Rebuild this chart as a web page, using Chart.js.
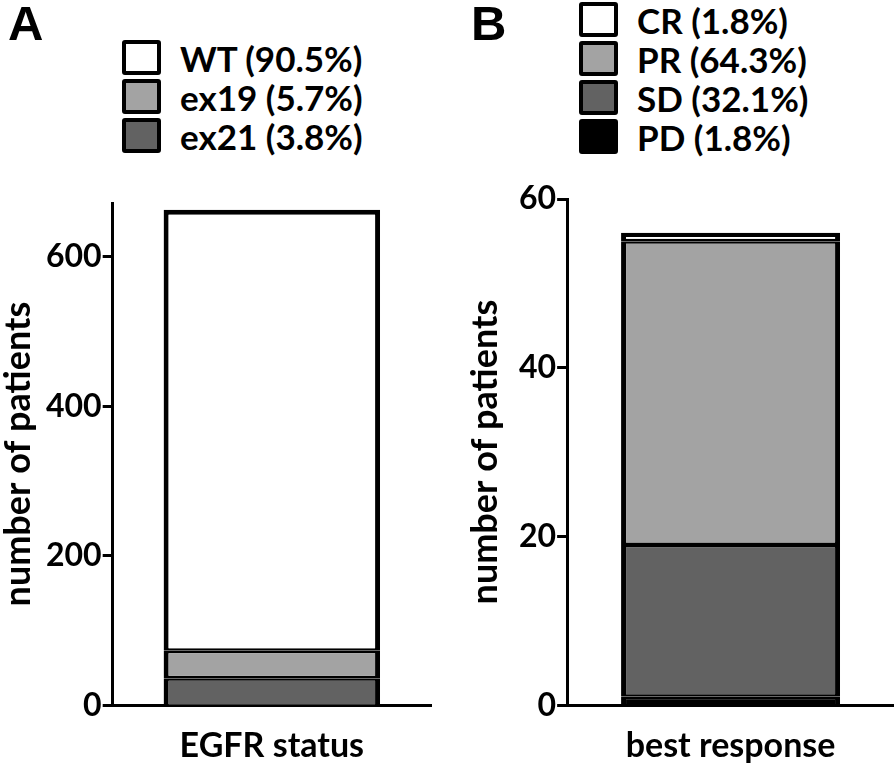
<!DOCTYPE html>
<html>
<head>
<meta charset="utf-8">
<script src="https://cdn.jsdelivr.net/npm/chart.js@4/dist/chart.umd.min.js"></script>
<style>
body { margin: 0; background: #fff; width: 894px; height: 772px; position: relative; overflow: hidden; font-family: Lato, sans-serif; font-weight: bold; color: #000; }
.panel { position: absolute; top: -1px; font-family: 'Liberation Sans', Arial, sans-serif; font-size: 49px; font-weight: bold; line-height: 1; }
.legend { position: absolute; }
.row { display: flex; align-items: center; height: 39px; font-size: 35px; }
.swatch { box-sizing: border-box; width: 39px; height: 35px; border: 4px solid #000; border-radius: 3px; margin-right: 19px; }
.chart { position: absolute; top: 150px; width: 447px; height: 622px; }
</style>
</head>
<body>
<div class="panel" style="left:8px">A</div>
<div class="panel" style="left:471px">B</div>
<div class="legend" id="legend-a" style="left:122px; top:38px"></div>
<div class="legend" id="legend-b" style="left:579px; top:0px"></div>
<div class="chart" style="left:0"><canvas id="chart-a"></canvas></div>
<div class="chart" style="left:447px"><canvas id="chart-b"></canvas></div>
<script>
// stack order is bottom -> top
const egfrLabels = ['ex21 (3.8%)', 'ex19 (5.7%)', 'WT (90.5%)'];
const egfrCounts = [36, 37, 590];
const egfrTicks = [0, 200, 400, 600];

const responseLabels = ['PD (1.8%)', 'SD (32.1%)', 'PR (64.3%)', 'CR (1.8%)'];
const responseCounts = [1, 18, 36, 1];
const responseTicks = [0, 20, 40, 60];

const egfrColors = ['#626262', '#a3a3a3', '#ffffff'];
const responseColors = ['#000000', '#626262', '#a3a3a3', '#ffffff'];

Chart.defaults.font.family = 'Lato, sans-serif';
Chart.defaults.font.weight = 'bold';
Chart.defaults.color = '#000';

function createDataSets(labels, counts, colors) {
    const n = labels.length;
    return labels.map((label, i) => ({
        label,
        data: [counts[i]],
        backgroundColor: colors[i],
        borderColor: '#000',
        borderSkipped: false,
        borderWidth: { top: i === n - 1 ? 5 : 2.5, bottom: i === 0 ? 0 : 2.5, left: 5, right: 5 },
    }));
}

function createChart(el, opts) {
    return new Chart(el, {
        type: 'bar',
        data: {
            labels: [opts.title],
            datasets: createDataSets(opts.labels, opts.counts, opts.colors),
        },
        options: {
            responsive: true,
            maintainAspectRatio: false,
            animation: false,
            layout: { padding: opts.padding },
            plugins: { legend: { display: false }, tooltip: { enabled: false } },
            datasets: { bar: { categoryPercentage: 1, barPercentage: opts.barPct } },
            scales: {
                x: {
                    stacked: true,
                    grid: { drawOnChartArea: false, drawTicks: false },
                    border: { color: '#000', width: 3 },
                    ticks: { display: false },
                    title: { display: true, text: opts.title, font: { size: 34, weight: 'bold' }, padding: { top: 20 } },
                },
                y: {
                    stacked: true,
                    min: 0,
                    max: opts.max,
                    afterBuildTicks: scale => { scale.ticks = opts.ticks.map(value => ({ value })); },
                    grid: { drawOnChartArea: false, tickLength: 10, tickWidth: 3, color: '#000' },
                    border: { color: '#000', width: 3 },
                    ticks: { font: { size: 32, weight: 'bold' }, padding: 1 },
                    title: {
                        display: true, text: 'number of patients',
                        font: { size: 36, weight: 'bold', lineHeight: 1 },
                        padding: { top: 0, bottom: opts.titleGap },
                    },
                },
            },
        },
    });
}

function createLegend(el, labels, colors) {
    for (let i = labels.length - 1; i >= 0; i--) {
        const row = document.createElement('div');
        row.className = 'row';
        const sw = document.createElement('div');
        sw.className = 'swatch';
        sw.style.background = colors[i];
        row.appendChild(sw);
        row.appendChild(document.createTextNode(labels[i]));
        el.appendChild(row);
    }
}

createLegend(document.getElementById('legend-a'), egfrLabels, egfrColors);
createLegend(document.getElementById('legend-b'), responseLabels, responseColors);

createChart(document.getElementById('chart-a'), {
    title: 'EGFR status',
    labels: egfrLabels, counts: egfrCounts, colors: egfrColors,
    ticks: egfrTicks, max: 672, barPct: 0.68, titleGap: 9,
    padding: { top: 53, right: 16, left: 0, bottom: 2 },
});
createChart(document.getElementById('chart-b'), {
    title: 'best response',
    labels: responseLabels, counts: responseCounts, colors: responseColors,
    ticks: responseTicks, max: 60, barPct: 0.67, titleGap: 15,
    padding: { top: 49, right: 0, left: 20, bottom: 2 },
});
</script>
</body>
</html>
